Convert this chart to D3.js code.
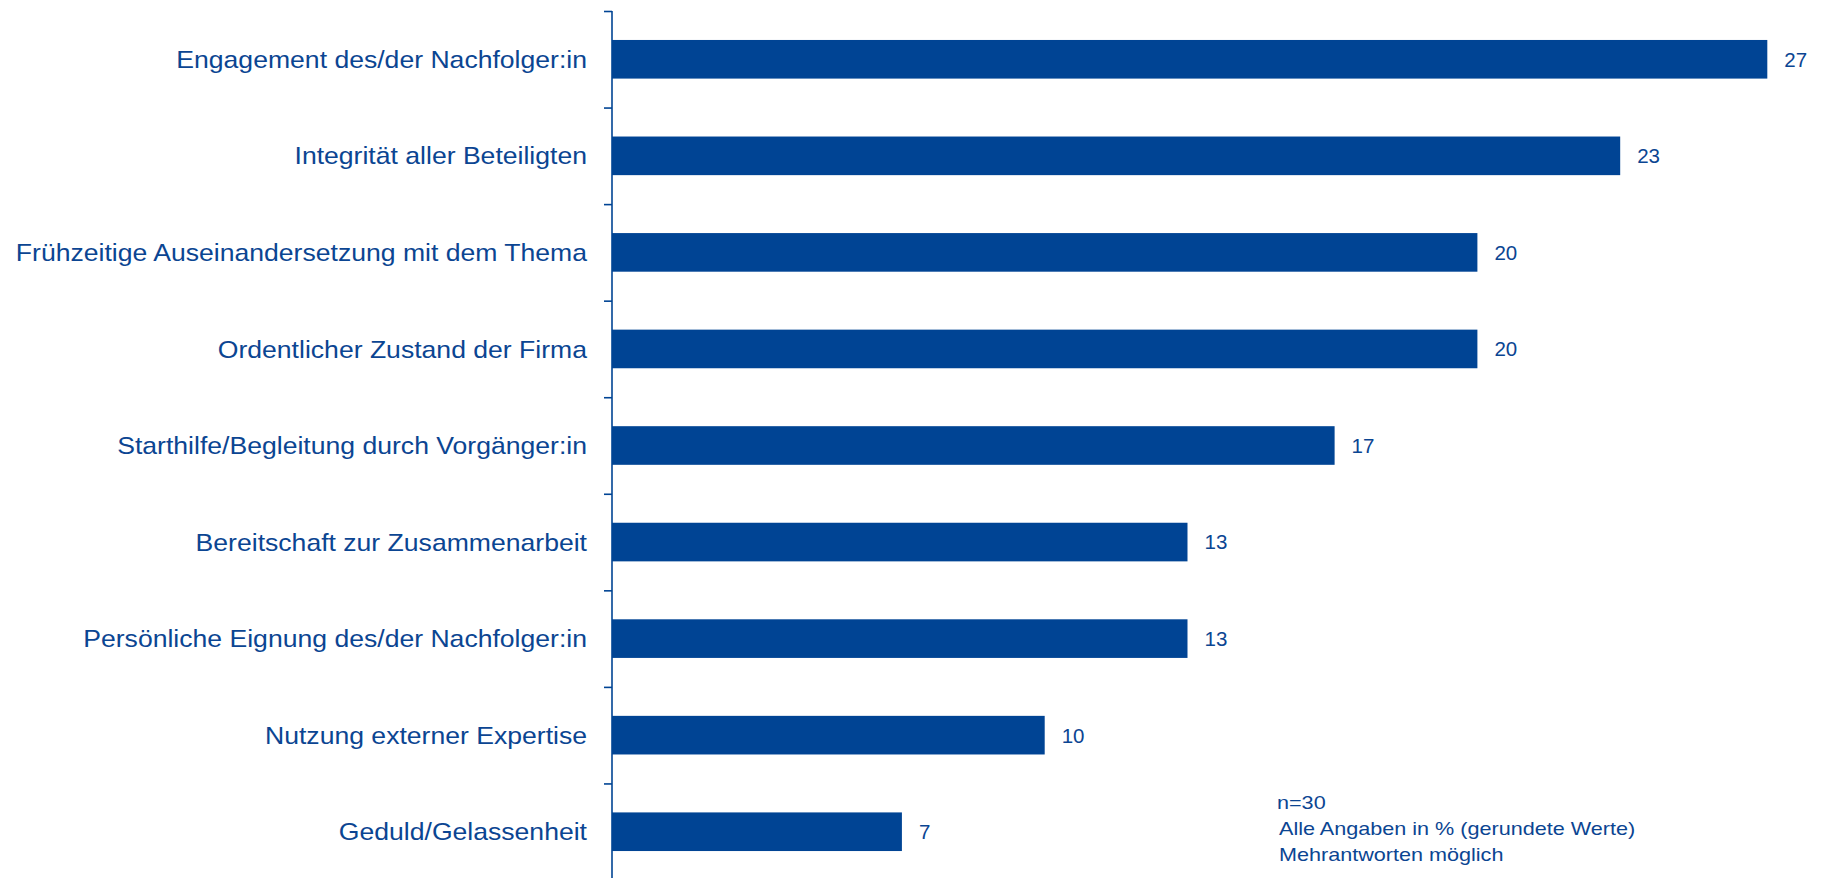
<!DOCTYPE html>
<html lang="de">
<head>
<meta charset="utf-8">
<script src="https://cdn.jsdelivr.net/npm/d3@7"></script>
<style>
  html, body { margin: 0; padding: 0; background: #ffffff; }
  svg { display: block; }
  text { font-family: "Liberation Sans", Arial, sans-serif; fill: #0b4592; }
</style>
</head>
<body>
<svg id="chart" width="1821" height="878"></svg>
<script>
// Erfolgsfaktoren der Nachfolge, Anteil der Nennungen in %
const categories = [
  "Engagement des/der Nachfolger:in",
  "Integrität aller Beteiligten",
  "Frühzeitige Auseinandersetzung mit dem Thema",
  "Ordentlicher Zustand der Firma",
  "Starthilfe/Begleitung durch Vorgänger:in",
  "Bereitschaft zur Zusammenarbeit",
  "Persönliche Eignung des/der Nachfolger:in",
  "Nutzung externer Expertise",
  "Geduld/Gelassenheit"
];
const values = [26.7, 23.3, 20.0, 20.0, 16.7, 13.3, 13.3, 10.0, 6.7];
const noteLines = [
  "n=30",
  "Alle Angaben in % (gerundete Werte)",
  "Mehrantworten möglich"
];

const blue = "#004494";
const svg = d3.select("#chart");

const x0 = 612;
const x = d3.scaleLinear().domain([0, 30]).range([x0, x0 + 30 * 43.27]);
const y = d3.scaleBand()
  .domain(categories)
  .range([11, 880])
  .paddingInner(0.6)
  .paddingOuter(0.3);

// Bars
svg.append("g")
  .selectAll("rect")
  .data(values)
  .join("rect")
  .attr("x", x(0))
  .attr("y", (d, i) => y(categories[i]))
  .attr("width", d => x(d) - x(0))
  .attr("height", y.bandwidth())
  .attr("fill", blue);

// Value labels (rounded)
svg.append("g")
  .selectAll("text")
  .data(values)
  .join("text")
  .attr("x", d => x(d) + 17)
  .attr("y", (d, i) => y(categories[i]) + y.bandwidth() / 2)
  .attr("dy", "0.36em")
  .attr("font-size", 20.5)
  .text(d => d3.format(".0f")(d));

// Category axis: line with ticks between the categories
const tickScale = d3.scaleLinear().domain([0, categories.length]).range(y.range());
const axis = svg.append("g")
  .attr("transform", `translate(${x0},0)`)
  .call(d3.axisLeft(tickScale)
    .tickValues(d3.range(0, categories.length + 1))
    .tickSize(8)
    .tickSizeOuter(0)
    .tickFormat(""));
axis.select(".domain").attr("stroke", blue).attr("stroke-width", 1.6)
  .attr("d", `M0,${y.range()[0]}V878`);
axis.selectAll(".tick line").attr("stroke", blue).attr("stroke-width", 1.6);

// Category labels (slightly widened type)
svg.append("g")
  .selectAll("text")
  .data(categories)
  .join("text")
  .attr("transform", d => `translate(587,${y(d) + y.bandwidth() / 2}) scale(1.108,1)`)
  .attr("dy", "0.36em")
  .attr("text-anchor", "end")
  .attr("font-size", 24)
  .text(d => d);

// Footnote
svg.append("g")
  .selectAll("text")
  .data(noteLines)
  .join("text")
  .attr("transform", (d, i) => `translate(${i === 0 ? 1277 : 1279},${809 + i * 25.8}) scale(1.2,1)`)
  .attr("font-size", 18)
  .text(d => d);
</script>
</body>
</html>
